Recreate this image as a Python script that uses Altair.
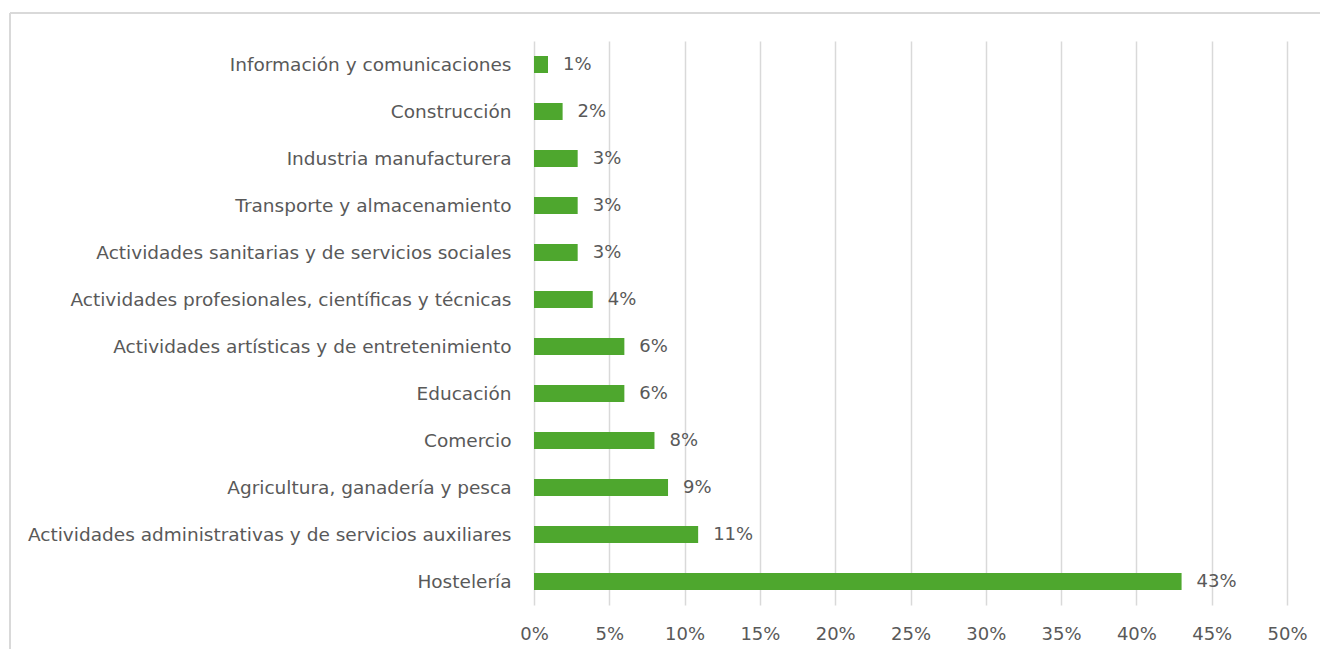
import altair as alt
import pandas as pd

categories = [
    "Información y comunicaciones",
    "Construcción",
    "Industria manufacturera",
    "Transporte y almacenamiento",
    "Actividades sanitarias y de servicios sociales",
    "Actividades profesionales, científicas y técnicas",
    "Actividades artísticas y de entretenimiento",
    "Educación",
    "Comercio",
    "Agricultura, ganadería y pesca",
    "Actividades administrativas y de servicios auxiliares",
    "Hostelería",
]
shares = [0.0093, 0.019, 0.029, 0.029, 0.029, 0.039, 0.060, 0.060, 0.080, 0.089, 0.109, 0.430]
value_labels = ["1%", "2%", "3%", "3%", "3%", "4%", "6%", "6%", "8%", "9%", "11%", "43%"]
x_ticks = [0, 0.05, 0.10, 0.15, 0.20, 0.25, 0.30, 0.35, 0.40, 0.45, 0.50]

df = pd.DataFrame({"cat": categories, "share": shares, "label": value_labels})

FONT = "DejaVu Sans"
FS = 18
GREY = "#595959"
W, H = 753, 564

x_enc = alt.X(
    "share:Q",
    scale=alt.Scale(domain=[0, 0.5], nice=False),
    axis=alt.Axis(
        values=x_ticks, format=".0%", title=None, domain=False, ticks=False,
        grid=True, gridColor="#d9d9d9", gridWidth=1.5, labelFlush=False,
        labelFont=FONT, labelFontSize=FS, labelColor=GREY, labelPadding=20,
    ),
)
y_enc = alt.Y(
    "cat:N",
    sort=categories,
    scale=alt.Scale(paddingInner=0, paddingOuter=0),
    axis=alt.Axis(
        title=None, domain=False, ticks=False, grid=False,
        labelFont=FONT, labelFontSize=18.5, labelColor=GREY, labelPadding=23,
        labelLimit=600,
    ),
)

bars = alt.Chart(df).mark_bar(size=17, color="#4EA72E").encode(x=x_enc, y=y_enc)
texts = alt.Chart(df).mark_text(
    align="left", baseline="middle", dx=15, font=FONT, fontSize=FS, color=GREY
).encode(x="share:Q", y=alt.Y("cat:N", sort=categories), text="label:N")

frame_left = alt.Chart(df).mark_rule(color="#d9d9d9", strokeWidth=2, clip=False).encode(
    x=alt.value(-524), y=alt.value(-28), y2=alt.value(H + 60)
)
frame_top = alt.Chart(df).mark_rule(color="#d9d9d9", strokeWidth=2, clip=False).encode(
    x=alt.value(-524), x2=alt.value(W + 60), y=alt.value(-28)
)

chart = alt.layer(frame_left, frame_top, bars, texts).properties(
    width=W, height=H,
    autosize=alt.AutoSizeParams(type="none"),
    padding={"left": 526, "top": 33, "right": 33, "bottom": 44},
).configure_view(stroke=None)

chart.save("out.html", embed_options={"renderer": "svg", "actions": False})
